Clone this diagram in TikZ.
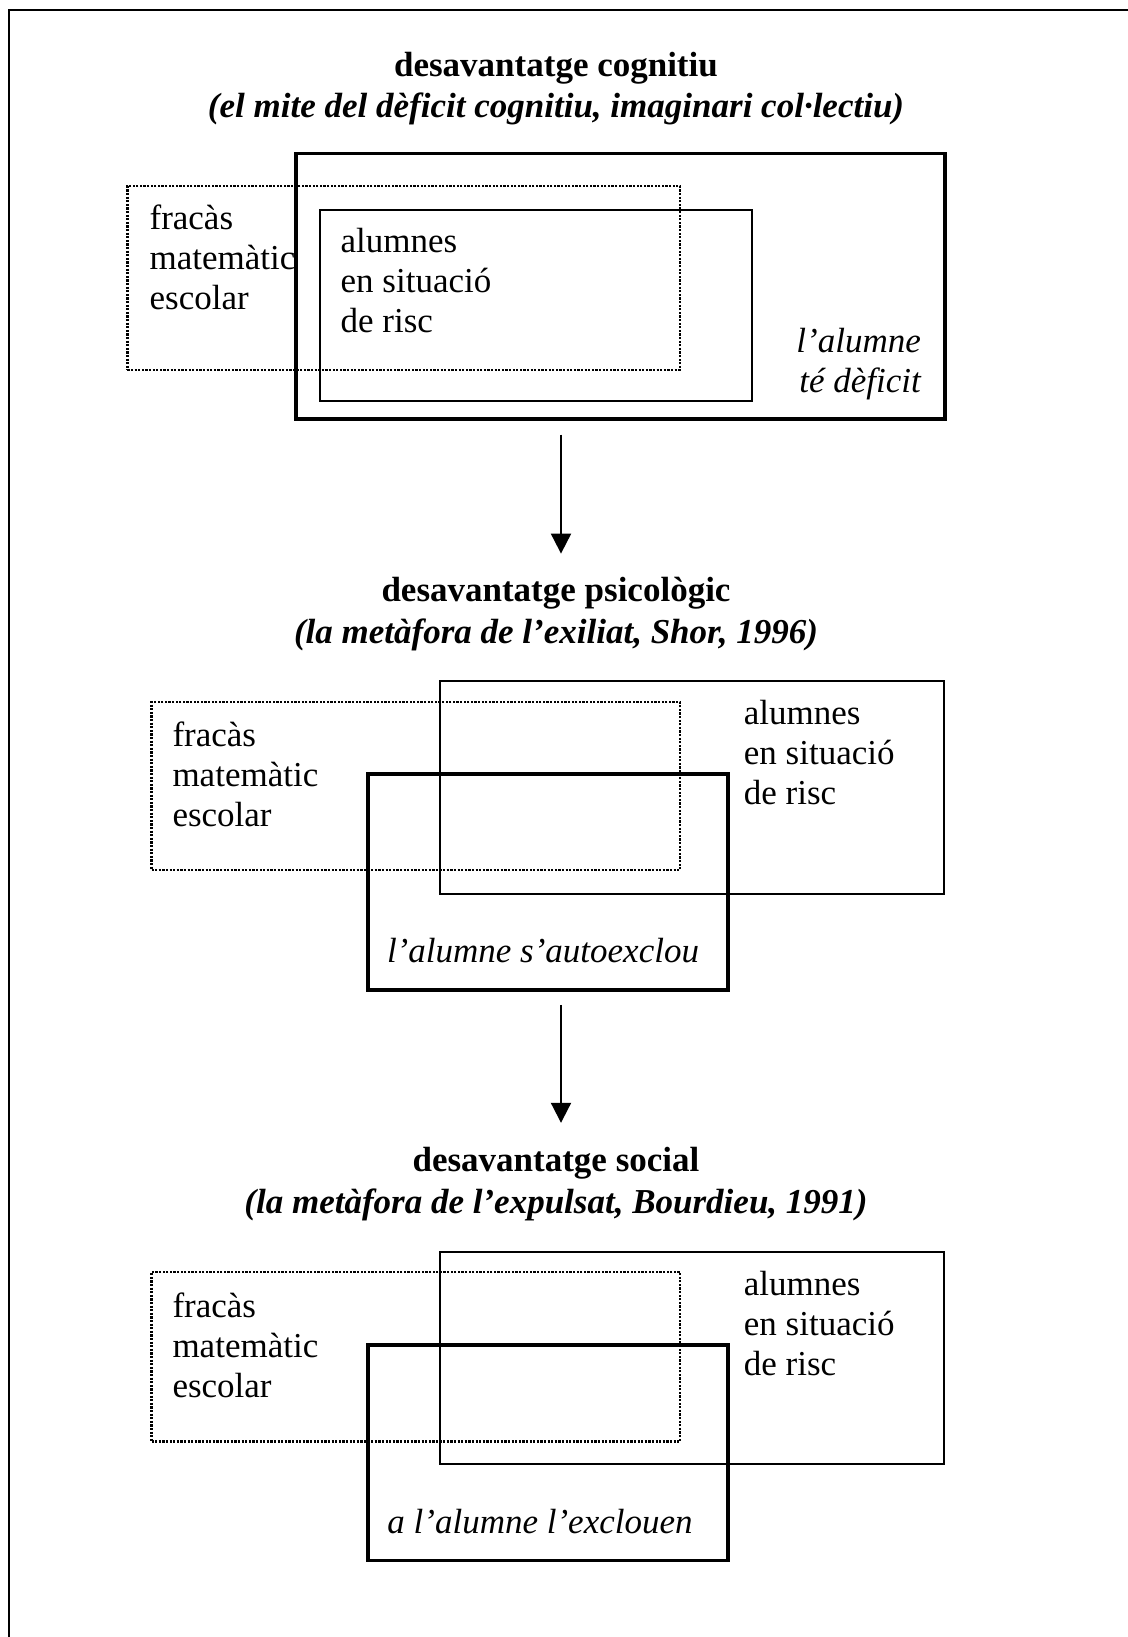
\documentclass[tikz,border=0pt]{standalone}
\usepackage{fontspec}
\setmainfont{Liberation Serif}
\usetikzlibrary{arrows.meta}
\begin{document}
\begin{tikzpicture}[x=1pt,y=-1pt,
  frame/.style={line width=2pt},
  thinbox/.style={draw, line width=2pt, outer sep=0pt, inner sep=0pt, anchor=north west},
  thickbox/.style={draw, line width=3.8pt, outer sep=0pt, inner sep=0pt, anchor=north west},
  dotbox/.style={draw, line width=2.3pt, dash pattern=on 2.2pt off 1.4pt, outer sep=0pt, inner sep=0pt, anchor=north west},
  label/.style={inner sep=0pt, font=\fontsize{35}{40}\selectfont},
  title/.style={inner sep=0pt, align=center, font=\fontsize{35}{41.7}\selectfont\bfseries},
  flow/.style={line width=2pt, -{Triangle[width=20pt,length=20pt]}}
]
\useasboundingbox (0,0) rectangle (1127,1637);
\fill[white] (0,0) rectangle (1127,1637);

% page frame (open to the right and bottom)
\draw[frame] (1140,10.4) -- (9.4,10.4) -- (9.4,1650);

% ---------- cognitive disadvantage ----------
\node[title] (t1) at (556,88.6) {desavantatge cognitiu\\\textit{(el mite del dèficit cognitiu, imaginari col·lectiu)}};
\node[thickbox, minimum width=649.7pt, minimum height=265.3pt] (deficit1) at (295.6,153.5) {};
\node[dotbox, minimum width=552.6pt, minimum height=183.8pt] (fracas1) at (127.4,186) {};
\node[thinbox, minimum width=432.4pt, minimum height=191pt] (risc1) at (319.6,210) {};
\node[label, anchor=west, align=left] (fracasT1) at (149.4,257.5) {fracàs\\matemàtic\\escolar};
\node[label, anchor=west, align=left] (riscT1) at (340.5,281) {alumnes\\en situació\\de risc};
\node[label, anchor=east, align=right, font=\fontsize{35}{40}\selectfont\itshape] (deficitT1) at (921,364.5) {l’alumne\\té dèficit};

% ---------- psychological disadvantage ----------
\node[title] (t2) at (556,614) {desavantatge psicològic\\\textit{(la metàfora de l’exiliat, Shor, 1996)}};
\node[dotbox, minimum width=528.5pt, minimum height=168pt] (fracas2) at (151.5,702) {};
\node[thinbox, minimum width=504.5pt, minimum height=213pt] (risc2) at (439.7,681) {};
\node[thickbox, minimum width=360.3pt, minimum height=216pt] (excl2) at (367.7,774) {};
\node[label, anchor=west, align=left] (fracasT2) at (172.3,774.5) {fracàs\\matemàtic\\escolar};
\node[label, anchor=west, align=left] (riscT2) at (743.7,752.5) {alumnes\\en situació\\de risc};
\node[label, font=\fontsize{35}{40}\selectfont\itshape] (exclT2) at (543,950.5) {l’alumne s’autoexclou};

% ---------- social disadvantage ----------
\node[title] (t3) at (556,1184.3) {desavantatge social\\\textit{(la metàfora de l’expulsat, Bourdieu, 1991)}};
\node[dotbox, minimum width=528.5pt, minimum height=169.4pt] (fracas3) at (151.5,1272) {};
\node[thinbox, minimum width=504.5pt, minimum height=211.9pt] (risc3) at (439.7,1252.4) {};
\node[thickbox, minimum width=360.3pt, minimum height=215.2pt] (excl3) at (367.7,1345.3) {};
\node[label, anchor=west, align=left] (fracasT3) at (172.3,1345) {fracàs\\matemàtic\\escolar};
\node[label, anchor=west, align=left] (riscT3) at (743.7,1323.5) {alumnes\\en situació\\de risc};
\node[label, font=\fontsize{35}{40}\selectfont\itshape] (exclT3) at (540,1521.8) {a l’alumne l’exclouen};

% ---------- arrows between the stages ----------
\coordinate (a1from) at (561,434.5);
\coordinate (a1to) at (561,553.6);
\coordinate (a2from) at (561,1004.8);
\coordinate (a2to) at (561,1122.8);
\draw[flow] (a1from) -- (a1to);
\draw[flow] (a2from) -- (a2to);
\end{tikzpicture}
\end{document}
